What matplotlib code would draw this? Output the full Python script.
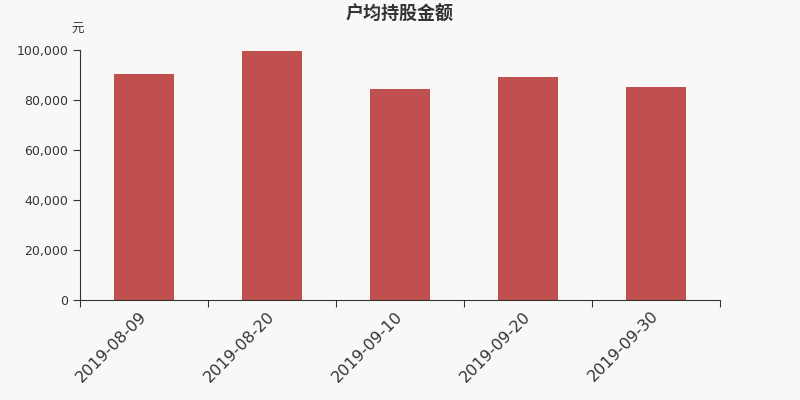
import matplotlib
matplotlib.use('Agg')
from matplotlib import pyplot as plt
from matplotlib.ticker import FuncFormatter
import numpy as np

plt.rcParams['font.family'] = ['Noto Sans CJK SC', 'DejaVu Sans']

dates = ['2019-08-09', '2019-08-20', '2019-09-10', '2019-09-20', '2019-09-30']
amounts = [90400, 99600, 84300, 89400, 85200]

bg = '#f8f8f8'
text_color = '#333333'

fig = plt.figure(figsize=(8, 4), dpi=100, facecolor=bg)
ax = fig.add_axes([0.1, 0.25, 0.8, 0.625], facecolor=bg)

x = np.arange(len(dates))
ax.bar(x, amounts, width=0.47, color='#c0504d')

ax.set_xlim(-0.5, len(dates) - 0.5)
ax.set_ylim(0, 100000)
ax.set_yticks(np.arange(0, 100001, 20000))
ax.yaxis.set_major_formatter(FuncFormatter(lambda v, p: f'{int(v):,}'))

# boundary ticks as major, labels on minor ticks at the bar centres
ax.set_xticks(np.arange(-0.5, len(dates), 1.0))
ax.set_xticklabels([])
ax.set_xticks(x, minor=True)
ax.set_xticklabels(dates, minor=True, rotation=45, ha='right', va='center',
                   rotation_mode='anchor', fontsize=11.5, color=text_color,
                   family='DejaVu Sans')
ax.tick_params(axis='x', which='minor', length=0, pad=10)
ax.tick_params(axis='x', which='major', length=5, color=text_color)
ax.tick_params(axis='y', length=5, color=text_color, labelsize=9,
               labelcolor=text_color)
for lbl in ax.get_yticklabels():
    lbl.set_family('DejaVu Sans')

for side in ['top', 'right']:
    ax.spines[side].set_visible(False)
ax.spines['left'].set_color(text_color)
ax.spines['bottom'].set_color(text_color)

fig.text(0.5, 0.965, '户均持股金额', ha='center', va='center',
         fontsize=13, fontweight='bold', color=text_color)
fig.text(0.0975, 0.927, '元', ha='center', va='center', fontsize=9,
         color=text_color)

fig.savefig('out.png', dpi=100, facecolor=bg)
